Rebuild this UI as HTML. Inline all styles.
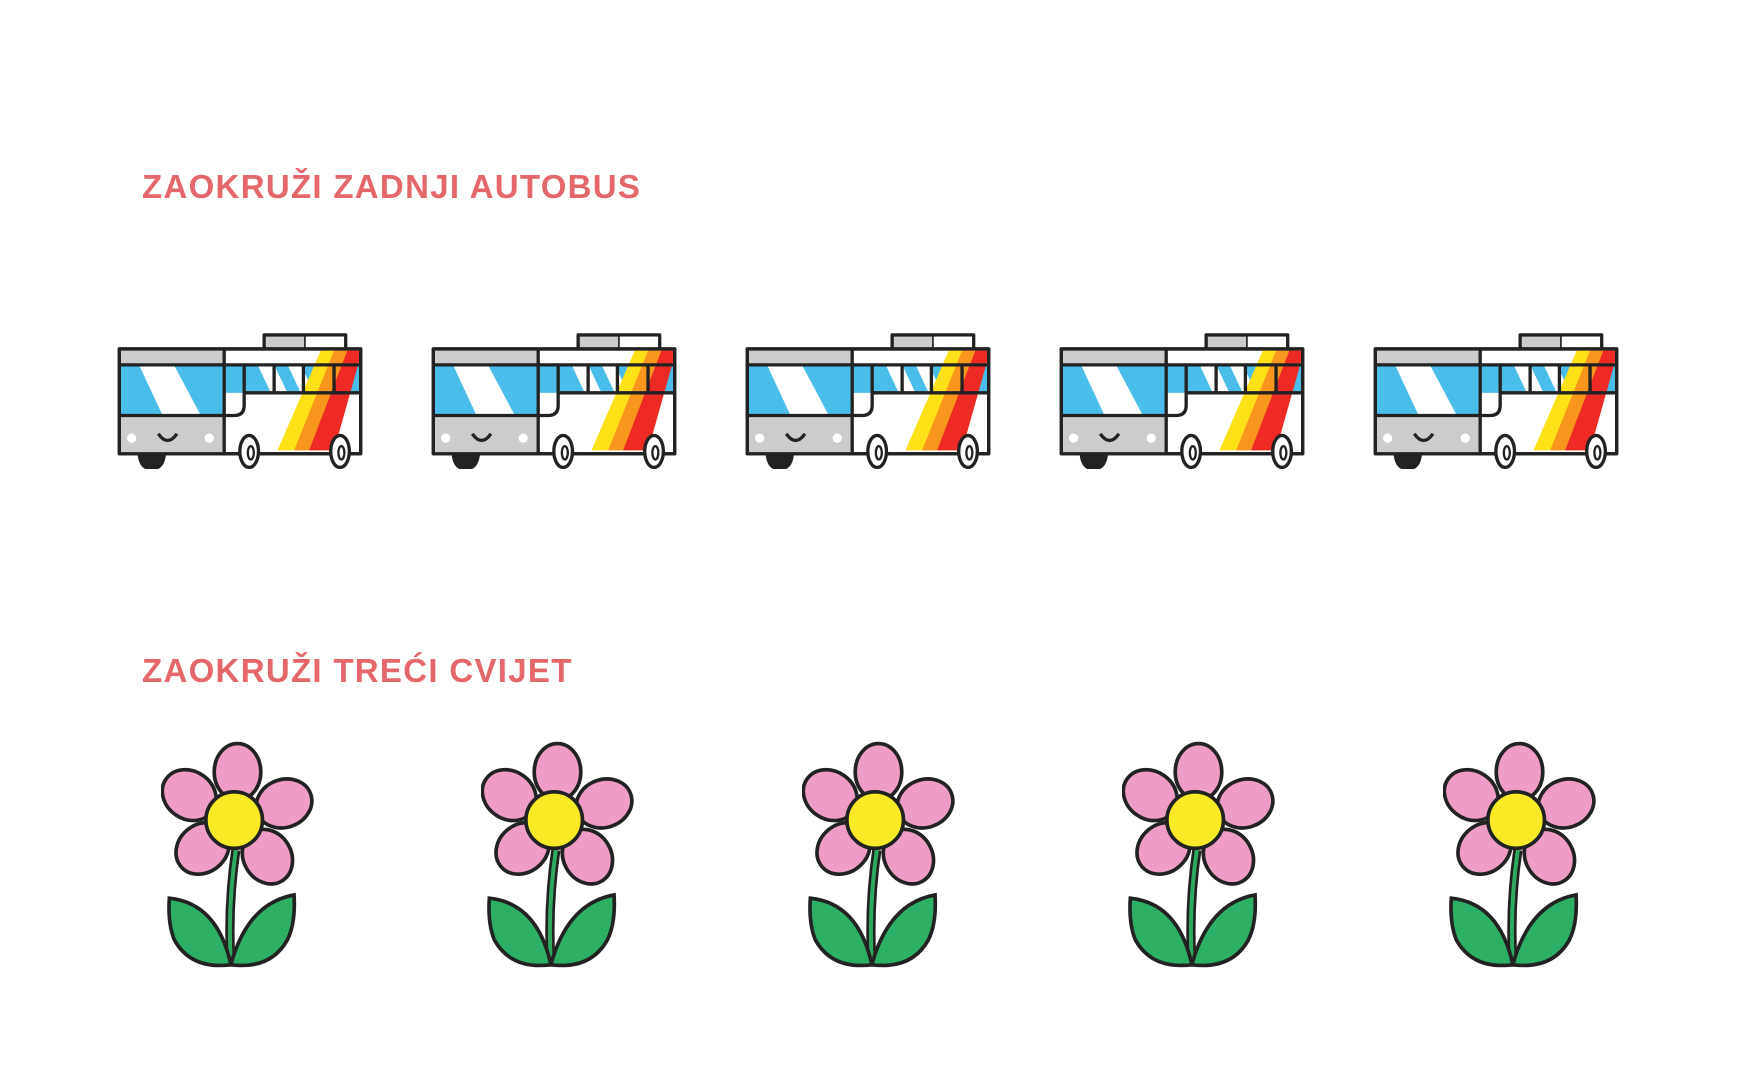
<!DOCTYPE html>
<html><head><meta charset="utf-8"><style>
body{margin:0;width:1756px;height:1080px;background:#fff;position:relative;overflow:hidden}
.t{position:absolute;left:142px;font-family:"Liberation Sans",sans-serif;font-weight:bold;font-size:33px;color:#e4676b;letter-spacing:1.3px;line-height:1}
svg{position:absolute}
</style></head><body>
<div class="t" style="top:170px">ZAOKRUŽI ZADNJI AUTOBUS</div>
<div class="t" style="top:654px">ZAOKRUŽI TREĆI CVIJET</div>
<svg width="0" height="0" style="position:absolute"><defs>
<g id="bus" stroke="#222" stroke-width="10" stroke-linejoin="round">
<rect x="490" y="548" width="245" height="45" fill="#ccc"/>
<line x1="615" y1="548" x2="615" y2="593"/>
<rect x="615" y="553" width="115" height="37" fill="#fff" stroke="none"/>
<rect x="55" y="590" width="725" height="315" fill="#fff"/>
<rect x="58" y="593" width="312" height="45" fill="#ccc" stroke="none"/>
<rect x="58" y="640" width="312" height="150" fill="#4bbdea" stroke="none"/>
<polygon points="115,640 220,640 300,790 185,790" fill="#fff" stroke="none"/>
<rect x="58" y="790" width="312" height="112" fill="#ccc" stroke="none"/>
<rect x="372" y="637" width="406" height="85" fill="#4bbdea" stroke="none"/>
<polygon points="470,637 520,637 560,722 510,722" fill="#fff" stroke="none"/>
<polygon points="560,637 600,637 640,722 600,722" fill="#fff" stroke="none"/>
<polygon points="660,595 700,595 620,895 530,895" fill="#ffe11a" stroke="none"/>
<polygon points="700,595 740,595 660,895 580,895" fill="#f8961e" stroke="none"/>
<polygon points="740,595 776,595 776,625 700,895 625,895" fill="#ee2a24" stroke="none"/>
<line x1="58" y1="638" x2="370" y2="638"/>
<line x1="58" y1="790" x2="370" y2="790"/>
<line x1="370" y1="593" x2="370" y2="905"/>
<line x1="370" y1="638" x2="780" y2="638"/>
<line x1="430" y1="722" x2="780" y2="722"/>
<path d="M430 640 V760 Q430 790 400 790 H372" fill="none"/>
<line x1="520" y1="640" x2="520" y2="722"/>
<line x1="608" y1="640" x2="608" y2="722"/>
<line x1="700" y1="640" x2="700" y2="722"/>
<rect x="55" y="590" width="725" height="315" fill="none"/>
<circle cx="92" cy="858" r="14" fill="#fff" stroke="none"/>
<circle cx="325" cy="858" r="14" fill="#fff" stroke="none"/>
<path d="M172 845 Q200 885 228 845" fill="none"/>
<path d="M115 908 H190 Q185 950 152 950 Q120 950 115 908Z" fill="#222"/>
<ellipse cx="445" cy="898" rx="28" ry="48" fill="#fff"/>
<ellipse cx="450" cy="902" rx="9" ry="20" fill="none" stroke-width="7"/>
<ellipse cx="718" cy="898" rx="28" ry="48" fill="#fff"/>
<ellipse cx="722" cy="902" rx="9" ry="20" fill="none" stroke-width="7"/>
</g>
<g id="fl" stroke="#222" stroke-width="11">
<path d="M655 450 Q630 620 640 790" fill="none" stroke-width="28"/>
<path d="M655 450 Q630 620 640 790" fill="none" stroke="#2daa60" stroke-width="12"/>
<path d="M455 595 Q600 610 640 795 Q520 810 470 720 Q450 670 455 595Z" fill="#2db065"/>
<path d="M830 585 Q690 610 640 795 Q760 810 810 720 Q835 670 830 585Z" fill="#2db065"/>
<ellipse cx="660" cy="215" rx="70" ry="85" fill="#ef9dc6"/>
<ellipse cx="515" cy="285" rx="72" ry="85" transform="rotate(-55 515 285)" fill="#ef9dc6"/>
<ellipse cx="800" cy="310" rx="72" ry="85" transform="rotate(70 800 310)" fill="#ef9dc6"/>
<ellipse cx="555" cy="445" rx="72" ry="85" transform="rotate(50 555 445)" fill="#ef9dc6"/>
<ellipse cx="750" cy="470" rx="72" ry="85" transform="rotate(-30 750 470)" fill="#ef9dc6"/>
<circle cx="650" cy="360" r="85" fill="#f8ea26"/>
</g></defs></svg>
<svg style="left:116px;top:332px" width="248" height="137" viewBox="45 540 745 410"><use href="#bus"/></svg>
<svg style="left:430px;top:332px" width="248" height="137" viewBox="45 540 745 410"><use href="#bus"/></svg>
<svg style="left:744px;top:332px" width="248" height="137" viewBox="45 540 745 410"><use href="#bus"/></svg>
<svg style="left:1058px;top:332px" width="248" height="137" viewBox="45 540 745 410"><use href="#bus"/></svg>
<svg style="left:1372px;top:332px" width="248" height="137" viewBox="45 540 745 410"><use href="#bus"/></svg>
<svg style="left:161px;top:740px" width="153" height="230" viewBox="430 120 460 690"><use href="#fl"/></svg>
<svg style="left:481px;top:740px" width="153" height="230" viewBox="430 120 460 690"><use href="#fl"/></svg>
<svg style="left:802px;top:740px" width="153" height="230" viewBox="430 120 460 690"><use href="#fl"/></svg>
<svg style="left:1122px;top:740px" width="153" height="230" viewBox="430 120 460 690"><use href="#fl"/></svg>
<svg style="left:1443px;top:740px" width="153" height="230" viewBox="430 120 460 690"><use href="#fl"/></svg>
</body></html>
